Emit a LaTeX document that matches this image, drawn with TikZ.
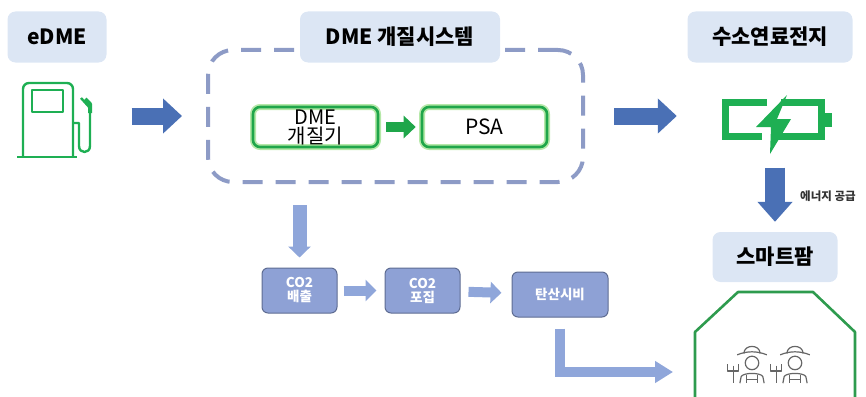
\documentclass[tikz,border=0pt]{standalone}
\usepackage{fontspec}
\setmainfont{Noto Sans CJK KR}
\usetikzlibrary{arrows.meta}

\definecolor{lblfill}{HTML}{DCE6F4}
\definecolor{darkarr}{HTML}{4A70B5}
\definecolor{lightarr}{HTML}{8FA6DA}
\definecolor{dashcol}{HTML}{8D9BC6}
\definecolor{co2fill}{HTML}{8EA1D5}
\definecolor{co2line}{HTML}{5E6C92}
\definecolor{boxgreen}{HTML}{1FA64A}
\definecolor{glow}{HTML}{B5E8A8}
\definecolor{icongreen}{HTML}{1EAF53}
\definecolor{housegreen}{HTML}{2E9B4E}
\definecolor{farmergray}{HTML}{666666}

% farmer with hat and pitchfork, centred at #1
\newcommand\farmerfig[1]{%
  \begin{scope}[shift={#1},scale=1.35,farmergray,line width=1.2pt,line join=round]
    \draw (-11,-9) .. controls (-4,-12) and (4,-12) .. (11,-9);
    \draw (-6,-10) .. controls (-6,-17) and (6,-17) .. (6,-10);
    \draw (0,-3) circle (5);
    \draw (-9,12) -- (-8,7) .. controls (-6,4) and (6,4) .. (8,7) -- (9,12);
    \draw (-4,6) -- (-4,12) (4,6) -- (4,12) (-4,9) -- (4,9);
    \draw (-14,-1) -- (-14,12);
    \draw (-18,-2) -- (-18,3) -- (-10,3) -- (-10,-2);
  \end{scope}}

\begin{document}
\begin{tikzpicture}[x=1pt,y=-1pt,line join=round,
    lbl/.style={fill=lblfill,rounded corners=8,minimum height=51,
      font=\fontsize{21}{23}\selectfont\bfseries},
    gbox/.style={draw=boxgreen,line width=2.6pt,rounded corners=7,
      minimum width=125,minimum height=40,inner sep=0pt,
      preaction={draw=glow,line width=6pt},
      font=\fontsize{21}{23}\selectfont},
    co2box/.style={fill=co2fill,draw=co2line,line width=1pt,rounded corners=6,
      minimum height=45,inner sep=0pt,text=white,align=center,
      font=\fontsize{13.5}{14}\selectfont\bfseries},
    bigarr/.style={darkarr,line width=17pt,line join=miter,
      -{Triangle[length=19pt,width=34pt]}},
    smallarr/.style={lightarr,line width=10pt,line join=miter,
      -{Triangle[length=11pt,width=21pt]}}]
  \useasboundingbox (0,0) rectangle (866,396);

  % system frame and heading boxes
  \node (sysbox) [draw=dashcol,line width=4pt,dash pattern=on 20pt off 13pt,
    rounded corners=25,minimum width=375,minimum height=132] at (395.5,116) {};
  \node (edme) [lbl,minimum width=99] at (57,37) {eDME};
  \node (syslbl) [lbl,minimum width=200] at (400,37) {DME 개질시스템};
  \node (fclbl) [lbl,minimum width=165] at (770,37) {수소연료전지};
  \node (farm) [lbl,minimum width=125,minimum height=50] at (775,257) {스마트팜};

  % reformer and PSA
  \node (ref) [gbox,align=center,font=\fontsize{20}{19}\selectfont] at (315.5,127)
    {DME\\개질기};
  \node (psa) [gbox] at (484.5,127) {PSA};
  \draw[boxgreen,line width=10pt,shorten <=7pt,shorten >=5pt,
    -{Triangle[length=12pt,width=22pt]}] (ref) -- (psa);

  % fuel pump
  \node (pump) [minimum width=60,minimum height=75] at (50,120) {};
  \begin{scope}[icongreen,line width=2.4pt]
    \draw[rounded corners=6] (23,157) -- (23,83) -- (73,83) -- (73,157);
    \draw (32,90) rectangle (63,112);
    \draw (17,157) -- (77,157);
    \draw (73,123) -- (79,123) -- (79,146) .. controls (79,154) and (90,154)
      .. (90,146) -- (90,108) -- (81,98);
    \draw[line width=4pt] (90,113) -- (90,104) -- (85,99);
  \end{scope}

  % battery
  \node (batt) [minimum width=110,minimum height=55] at (777,120) {};
  \begin{scope}[icongreen,line width=7pt,line cap=butt,line join=miter]
    \draw (767,102.5) -- (725.5,102.5) -- (725.5,136.5) -- (762,136.5);
    \draw (781,102.5) -- (821.5,102.5) -- (821.5,136.5) -- (776,136.5);
    \fill (825,113) rectangle (832,127);
    \fill (787,95) -- (756,127) -- (771,127) -- (770,154) -- (791,119)
      -- (777,119) -- cycle;
  \end{scope}

  % main flow
  \draw[bigarr,shorten <=25pt,shorten >=24pt] (edme.east |- sysbox) -- (sysbox.west);
  \draw[bigarr,shorten <=29pt,shorten >=45pt] (sysbox.east) -- (batt.west |- sysbox);
  \draw[darkarr,line width=20pt,shorten <=20pt,shorten >=10pt,
    -{Triangle[length=20pt,width=34pt]}] (batt.south -| farm) -- (farm.north);
  \node (supply) [font=\fontsize{11.5}{12}\selectfont\bfseries,text=black!80]
    at (828,196) {에너지 공급};

  % carbon dioxide chain
  \node (co2a) [co2box,minimum width=75] at (299.5,290.5) {CO2\\배출};
  \node (co2b) [co2box,minimum width=75] at (422.5,290.5) {CO2\\포집};
  \node (sibi) [co2box,minimum width=96] at (560,294.5) {탄산시비};
  \draw[smallarr,line width=14pt,shorten <=21pt,shorten >=10pt,
    -{Triangle[length=11pt,width=22pt]}] (co2a.north |- sysbox.south) -- (co2a.north);
  \draw[smallarr,shorten <=6pt,shorten >=8pt] (co2a) -- (co2b);
  \draw[smallarr,shorten <=8pt,shorten >=10pt] (co2b) -- (sibi);

  % greenhouse
  \coordinate (house) at (695,372);
  \draw[smallarr,shorten <=11pt,shorten >=22pt,
    -{Triangle[length=18pt,width=21pt]}] (sibi.south) |- (house);
  \draw[housegreen,line width=2.6pt] (695,400) -- (695,332) -- (738,292)
    -- (813,292) -- (855,332) -- (855,400);
  \farmerfig{(752,367)}
  \farmerfig{(795,367)}
\end{tikzpicture}
\end{document}
